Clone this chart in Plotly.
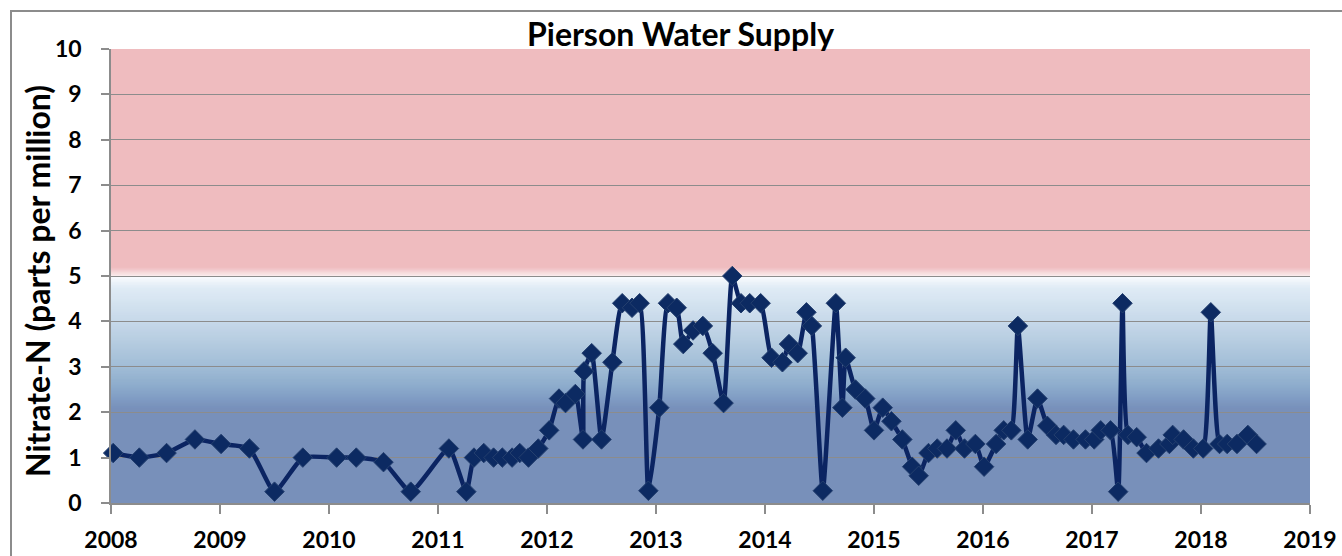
import plotly.graph_objects as go

# ---- data ----
sample_year = [
    2008.02, 2008.26, 2008.51, 2008.77, 2009.01, 2009.27, 2009.50, 2009.76,
    2010.07, 2010.25, 2010.50, 2010.75, 2011.10, 2011.26, 2011.33, 2011.42,
    2011.51, 2011.59, 2011.68, 2011.75, 2011.83, 2011.92, 2012.02, 2012.11,
    2012.17, 2012.26, 2012.33, 2012.34, 2012.41, 2012.50, 2012.60, 2012.69,
    2012.78, 2012.85, 2012.93, 2013.03, 2013.11, 2013.19, 2013.25, 2013.34,
    2013.43, 2013.52, 2013.62, 2013.70, 2013.78, 2013.86, 2013.96, 2014.06,
    2014.16, 2014.22, 2014.30, 2014.38, 2014.43, 2014.53, 2014.65, 2014.71,
    2014.74, 2014.83, 2014.92, 2015.00, 2015.08, 2015.16, 2015.26, 2015.35,
    2015.41, 2015.50, 2015.58, 2015.67, 2015.75, 2015.83, 2015.93, 2016.01,
    2016.12, 2016.19, 2016.26, 2016.32, 2016.41, 2016.50, 2016.59, 2016.67,
    2016.74, 2016.83, 2016.94, 2017.02, 2017.08, 2017.17, 2017.24, 2017.28,
    2017.33, 2017.41, 2017.50, 2017.61, 2017.71, 2017.74, 2017.84, 2017.93,
    2018.02, 2018.09, 2018.17, 2018.24, 2018.33, 2018.43, 2018.51,
]
nitrate_ppm = [
    1.1, 1.0, 1.1, 1.4, 1.3, 1.2, 0.25, 1.0,
    1.0, 1.0, 0.9, 0.25, 1.2, 0.25, 1.0, 1.1,
    1.0, 1.0, 1.0, 1.1, 1.0, 1.2, 1.6, 2.3,
    2.2, 2.4, 1.4, 2.9, 3.3, 1.4, 3.1, 4.4,
    4.3, 4.4, 0.27, 2.1, 4.4, 4.3, 3.5, 3.8,
    3.9, 3.3, 2.2, 5.0, 4.4, 4.4, 4.4, 3.2,
    3.1, 3.5, 3.3, 4.2, 3.9, 0.27, 4.4, 2.1,
    3.2, 2.5, 2.3, 1.6, 2.1, 1.8, 1.4, 0.8,
    0.6, 1.1, 1.2, 1.2, 1.6, 1.2, 1.3, 0.8,
    1.3, 1.6, 1.6, 3.9, 1.4, 2.3, 1.7, 1.5,
    1.5, 1.4, 1.4, 1.4, 1.6, 1.6, 0.25, 4.4,
    1.5, 1.45, 1.1, 1.2, 1.3, 1.5, 1.4, 1.2,
    1.2, 4.2, 1.3, 1.3, 1.3, 1.5, 1.3,
]
x_ticks = list(range(2008, 2020))
x_tick_labels = [str(y) for y in x_ticks]
y_ticks = list(range(0, 11))
limit_ppm = 5      # drinking-water limit band boundary
y_max = 10

# ---- styling helpers ----
def hex2rgb(h):
    h = h.lstrip("#")
    return tuple(int(h[i:i + 2], 16) for i in (0, 2, 4))

def interp(stops, v):
    # stops: list of (value, hex) descending by value
    for (v0, c0), (v1, c1) in zip(stops[:-1], stops[1:]):
        if v1 <= v <= v0:
            t = 0 if v0 == v1 else (v0 - v) / (v0 - v1)
            a, b = hex2rgb(c0), hex2rgb(c1)
            r = [round(a[i] + (b[i] - a[i]) * t) for i in range(3)]
            return "rgb(%d,%d,%d)" % tuple(r)
    return stops[-1][1]

blue_stops = [(5.0, "#F9FBFE"), (4.75, "#DFEBF5"), (4.0, "#C6D8E9"),
              (3.5, "#B3CADF"), (3.0, "#A0BCD6"), (2.6, "#8DACCC"),
              (2.3, "#7F9BC3"), (2.1, "#7890BA"), (0.0, "#7890BA")]
pink_stops = [(5.2, "#EFBCBF"), (5.0, "#FBEFF0")]

shapes = []
# pink band (stacked from the top down so no seams appear)
shapes.append(dict(type="rect", xref="paper", yref="y", x0=0, x1=1,
                   y0=limit_ppm, y1=y_max, fillcolor="#EFBCBF",
                   line_width=0, layer="below"))
n = 10
for i in range(n, 0, -1):
    top = limit_ppm + 0.2 * i / n
    shapes.append(dict(type="rect", xref="paper", yref="y", x0=0, x1=1,
                       y0=limit_ppm, y1=top, fillcolor=interp(pink_stops, top),
                       line_width=0, layer="below"))
# blue gradient band, stacked rects from 0 up to a decreasing top
n = 150
for i in range(n, 0, -1):
    top = limit_ppm * i / n
    shapes.append(dict(type="rect", xref="paper", yref="y", x0=0, x1=1,
                       y0=0, y1=top, fillcolor=interp(blue_stops, top),
                       line_width=0, layer="below"))
# outer chart frame
shapes.append(dict(type="rect", xref="paper", yref="paper",
                   x0=-0.0834, x1=1.2, y0=-0.3, y1=1.0837,
                   line=dict(color="#8C8C8C", width=2), fillcolor="rgba(0,0,0,0)",
                   layer="above"))

fig = go.Figure()
fig.add_trace(go.Scatter(
    x=sample_year, y=nitrate_ppm, mode="lines+markers",
    line=dict(color="#0B2462", width=4.5, shape="spline", smoothing=0.5),
    marker=dict(symbol="diamond", size=15, color="#0C2A62",
                line=dict(color="#243F6E", width=1)),
    showlegend=False, cliponaxis=False,
))

font_family = "Lato, 'Open Sans', sans-serif"
fig.update_layout(
    width=1342, height=556,
    margin=dict(l=111, r=32, t=49, b=53),
    paper_bgcolor="white", plot_bgcolor="white",
    shapes=shapes,
    font=dict(family=font_family, color="black"),
    annotations=[
        dict(text="<b>Pierson Water Supply</b>", xref="paper", yref="paper",
             x=0.4746, y=1.0, xanchor="center", yanchor="bottom", yshift=-6,
             showarrow=False, font=dict(size=32, family=font_family, color="black")),
        dict(text="<b>Nitrate-N (parts per million)</b>", xref="paper", yref="paper",
             x=-0.0609, y=0.489, xanchor="center", yanchor="middle", textangle=-90,
             showarrow=False, font=dict(size=32, family=font_family, color="black")),
    ],
)
fig.update_xaxes(
    range=[2008, 2019], tickmode="array", tickvals=x_ticks,
    ticktext=["<b>%s</b>" % t for t in x_tick_labels],
    tickfont=dict(size=23), ticks="outside", ticklen=9, tickcolor="#8C8C8C",
    tickwidth=1.5, showline=True, linecolor="#8C8C8C", linewidth=1.5,
    showgrid=False, zeroline=False, ticklabelstandoff=7, automargin=False,
)
fig.update_yaxes(
    range=[0, y_max], tickmode="array", tickvals=y_ticks,
    ticktext=["<b>%d</b>" % t for t in y_ticks],
    tickfont=dict(size=23), ticks="outside", ticklen=8, tickcolor="#8C8C8C",
    tickwidth=1.5, showline=True, linecolor="#8C8C8C", linewidth=1.5,
    showgrid=True, gridcolor="#8C8C8C", gridwidth=1.2, zeroline=False,
    ticklabelstandoff=15, automargin=False,
)

fig.write_html("out.html", config={"displayModeBar": False},
               post_script="document.body.style.margin='0';")
